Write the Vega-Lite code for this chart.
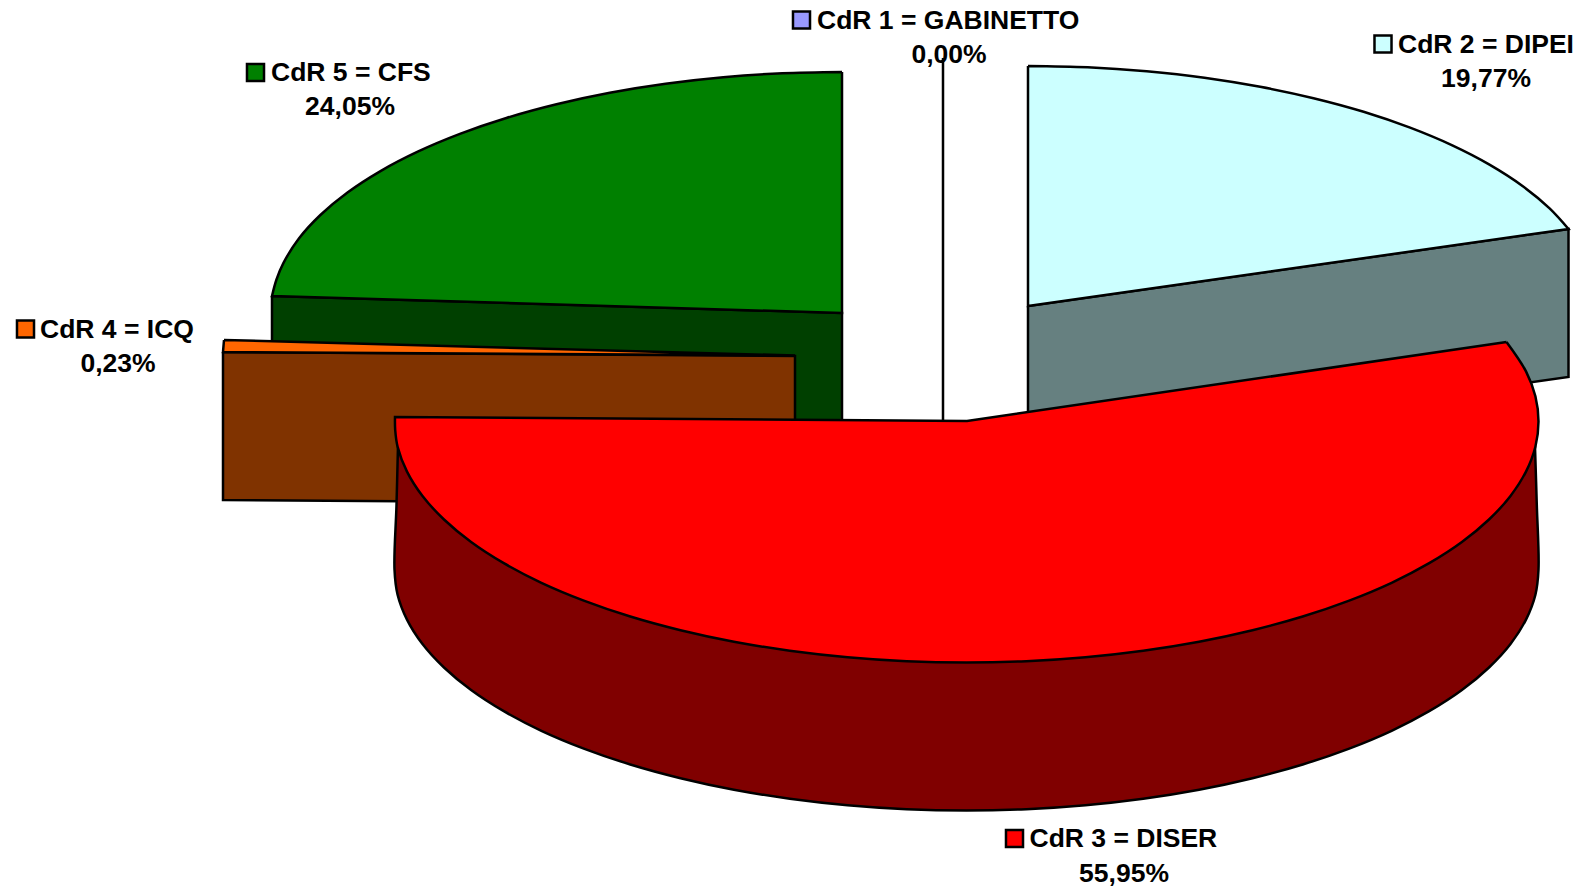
{"$schema":"https://vega.github.io/schema/vega-lite/v6.json","width":1582,"height":889,"padding":0,"autosize":{"type":"none"},"background":"#ffffff","config":{"view":{"stroke":null}},
"datasets":{
"slices":[
{"part":"CdR 2 side","i":0,"x":1028,"y":306},{"part":"CdR 2 side","i":0.5,"x":1028,"y":306},{"part":"CdR 2 side","i":1,"x":1568.5,"y":229},{"part":"CdR 2 side","i":1.5,"x":1568.5,"y":229},{"part":"CdR 2 side","i":2,"x":1568.5,"y":377},{"part":"CdR 2 side","i":2.5,"x":1568.5,"y":377},{"part":"CdR 2 side","i":3,"x":1028,"y":454},{"part":"CdR 2 side","i":3.5,"x":1028,"y":454},{"part":"CdR 2 side","i":4,"x":1028,"y":306},{"part":"CdR 2 side","i":4.5,"x":1028,"y":306},
{"part":"CdR 2 top","i":0,"x":1028,"y":66},{"part":"CdR 2 top","i":0.5,"x":1028,"y":66},{"part":"CdR 2 top","i":1,"x":1087.7,"y":67.3},{"part":"CdR 2 top","i":2,"x":1146.7,"y":71.3},{"part":"CdR 2 top","i":3,"x":1204.4,"y":77.7},{"part":"CdR 2 top","i":4,"x":1260.2,"y":86.8},{"part":"CdR 2 top","i":5,"x":1313.5,"y":98.2},{"part":"CdR 2 top","i":6,"x":1363.6,"y":111.8},{"part":"CdR 2 top","i":7,"x":1410.1,"y":127.7},{"part":"CdR 2 top","i":8,"x":1452.3,"y":145.4},{"part":"CdR 2 top","i":9,"x":1489.9,"y":164.9},{"part":"CdR 2 top","i":10,"x":1522.5,"y":186},{"part":"CdR 2 top","i":11,"x":1549.6,"y":208.4},{"part":"CdR 2 top","i":12,"x":1568.5,"y":229},{"part":"CdR 2 top","i":12.5,"x":1568.5,"y":229},{"part":"CdR 2 top","i":13,"x":1028,"y":306},{"part":"CdR 2 top","i":13.5,"x":1028,"y":306},{"part":"CdR 2 top","i":14,"x":1028,"y":66},{"part":"CdR 2 top","i":14.5,"x":1028,"y":66},
{"part":"CdR 5 side","i":0,"x":272,"y":296},{"part":"CdR 5 side","i":0.5,"x":272,"y":296},{"part":"CdR 5 side","i":1,"x":842,"y":313},{"part":"CdR 5 side","i":1.5,"x":842,"y":313},{"part":"CdR 5 side","i":2,"x":842,"y":461},{"part":"CdR 5 side","i":2.5,"x":842,"y":461},{"part":"CdR 5 side","i":3,"x":272,"y":444},{"part":"CdR 5 side","i":3.5,"x":272,"y":444},{"part":"CdR 5 side","i":4,"x":272,"y":296},{"part":"CdR 5 side","i":4.5,"x":272,"y":296},
{"part":"CdR 5 top","i":0,"x":842,"y":72},{"part":"CdR 5 top","i":0.5,"x":842,"y":72},{"part":"CdR 5 top","i":1,"x":782.3,"y":73.3},{"part":"CdR 5 top","i":2,"x":723.3,"y":77.3},{"part":"CdR 5 top","i":3,"x":665.6,"y":83.8},{"part":"CdR 5 top","i":4,"x":609.8,"y":92.8},{"part":"CdR 5 top","i":5,"x":556.5,"y":104.3},{"part":"CdR 5 top","i":6,"x":506.4,"y":118},{"part":"CdR 5 top","i":7,"x":459.9,"y":133.9},{"part":"CdR 5 top","i":8,"x":417.7,"y":151.7},{"part":"CdR 5 top","i":9,"x":380.1,"y":171.3},{"part":"CdR 5 top","i":10,"x":347.5,"y":192.5},{"part":"CdR 5 top","i":11,"x":320.4,"y":215},{"part":"CdR 5 top","i":12,"x":298.9,"y":238.5},{"part":"CdR 5 top","i":13,"x":283.5,"y":262.9},{"part":"CdR 5 top","i":14,"x":276.5,"y":279.5},{"part":"CdR 5 top","i":15,"x":272,"y":296},{"part":"CdR 5 top","i":15.5,"x":272,"y":296},{"part":"CdR 5 top","i":16,"x":842,"y":313},{"part":"CdR 5 top","i":16.5,"x":842,"y":313},{"part":"CdR 5 top","i":17,"x":842,"y":72},{"part":"CdR 5 top","i":17.5,"x":842,"y":72},
{"part":"CdR 4 side","i":0,"x":223,"y":352},{"part":"CdR 4 side","i":0.5,"x":223,"y":352},{"part":"CdR 4 side","i":1,"x":795,"y":356},{"part":"CdR 4 side","i":1.5,"x":795,"y":356},{"part":"CdR 4 side","i":2,"x":795,"y":504},{"part":"CdR 4 side","i":2.5,"x":795,"y":504},{"part":"CdR 4 side","i":3,"x":223,"y":500},{"part":"CdR 4 side","i":3.5,"x":223,"y":500},{"part":"CdR 4 side","i":4,"x":223,"y":352},{"part":"CdR 4 side","i":4.5,"x":223,"y":352},
{"part":"CdR 4 top","i":0,"x":224,"y":340},{"part":"CdR 4 top","i":0.5,"x":224,"y":340},{"part":"CdR 4 top","i":1,"x":795,"y":355.5},{"part":"CdR 4 top","i":1.5,"x":795,"y":355.5},{"part":"CdR 4 top","i":2,"x":223,"y":352},{"part":"CdR 4 top","i":2.5,"x":223,"y":352},{"part":"CdR 4 top","i":3,"x":224,"y":340},{"part":"CdR 4 top","i":3.5,"x":224,"y":340},
{"part":"CdR 3 side","i":0,"x":398,"y":445},{"part":"CdR 3 side","i":0.5,"x":398,"y":445},{"part":"CdR 3 side","i":0.7,"x":396.5,"y":505},{"part":"CdR 3 side","i":1,"x":394.5,"y":569.5},{"part":"CdR 3 side","i":2,"x":397.6,"y":594.7},{"part":"CdR 3 side","i":3,"x":407,"y":619.6},{"part":"CdR 3 side","i":4,"x":422.5,"y":644},{"part":"CdR 3 side","i":5,"x":444,"y":667.5},{"part":"CdR 3 side","i":6,"x":471.1,"y":690},{"part":"CdR 3 side","i":7,"x":503.8,"y":711.2},{"part":"CdR 3 side","i":8,"x":541.4,"y":730.8},{"part":"CdR 3 side","i":9,"x":583.8,"y":748.6},{"part":"CdR 3 side","i":10,"x":630.3,"y":764.5},{"part":"CdR 3 side","i":11,"x":680.5,"y":778.2},{"part":"CdR 3 side","i":12,"x":733.9,"y":789.7},{"part":"CdR 3 side","i":13,"x":789.8,"y":798.7},{"part":"CdR 3 side","i":14,"x":847.6,"y":805.2},{"part":"CdR 3 side","i":15,"x":906.7,"y":809.2},{"part":"CdR 3 side","i":16,"x":966.5,"y":810.5},{"part":"CdR 3 side","i":17,"x":1026.3,"y":809.2},{"part":"CdR 3 side","i":18,"x":1085.4,"y":805.2},{"part":"CdR 3 side","i":19,"x":1143.2,"y":798.7},{"part":"CdR 3 side","i":20,"x":1199.1,"y":789.7},{"part":"CdR 3 side","i":21,"x":1252.5,"y":778.2},{"part":"CdR 3 side","i":22,"x":1302.7,"y":764.5},{"part":"CdR 3 side","i":23,"x":1349.2,"y":748.6},{"part":"CdR 3 side","i":24,"x":1391.6,"y":730.8},{"part":"CdR 3 side","i":25,"x":1429.2,"y":711.2},{"part":"CdR 3 side","i":26,"x":1461.9,"y":690},{"part":"CdR 3 side","i":27,"x":1489,"y":667.5},{"part":"CdR 3 side","i":28,"x":1510.5,"y":644},{"part":"CdR 3 side","i":29,"x":1526,"y":619.6},{"part":"CdR 3 side","i":30,"x":1535.4,"y":594.7},{"part":"CdR 3 side","i":31,"x":1538.5,"y":569.5},{"part":"CdR 3 side","i":31.5,"x":1536.8,"y":505},{"part":"CdR 3 side","i":32,"x":1535,"y":447},{"part":"CdR 3 side","i":32.5,"x":1535,"y":447},{"part":"CdR 3 side","i":33,"x":398,"y":445},{"part":"CdR 3 side","i":33.5,"x":398,"y":445},
{"part":"CdR 3 top","i":0,"x":1506.5,"y":342},{"part":"CdR 3 top","i":0.5,"x":1506.5,"y":342},{"part":"CdR 3 top","i":1,"x":1526,"y":371.4},{"part":"CdR 3 top","i":2,"x":1535.4,"y":396.3},{"part":"CdR 3 top","i":3,"x":1538.5,"y":421.5},{"part":"CdR 3 top","i":4,"x":1535.4,"y":446.7},{"part":"CdR 3 top","i":5,"x":1526,"y":471.6},{"part":"CdR 3 top","i":6,"x":1510.5,"y":496},{"part":"CdR 3 top","i":7,"x":1489,"y":519.5},{"part":"CdR 3 top","i":8,"x":1461.9,"y":542},{"part":"CdR 3 top","i":9,"x":1429.2,"y":563.2},{"part":"CdR 3 top","i":10,"x":1391.6,"y":582.8},{"part":"CdR 3 top","i":11,"x":1349.2,"y":600.6},{"part":"CdR 3 top","i":12,"x":1302.7,"y":616.5},{"part":"CdR 3 top","i":13,"x":1252.5,"y":630.2},{"part":"CdR 3 top","i":14,"x":1199.1,"y":641.7},{"part":"CdR 3 top","i":15,"x":1143.2,"y":650.7},{"part":"CdR 3 top","i":16,"x":1085.4,"y":657.2},{"part":"CdR 3 top","i":17,"x":1026.3,"y":661.2},{"part":"CdR 3 top","i":18,"x":966.5,"y":662.5},{"part":"CdR 3 top","i":19,"x":906.7,"y":661.2},{"part":"CdR 3 top","i":20,"x":847.6,"y":657.2},{"part":"CdR 3 top","i":21,"x":789.8,"y":650.7},{"part":"CdR 3 top","i":22,"x":733.9,"y":641.7},{"part":"CdR 3 top","i":23,"x":680.5,"y":630.2},{"part":"CdR 3 top","i":24,"x":630.3,"y":616.5},{"part":"CdR 3 top","i":25,"x":583.8,"y":600.6},{"part":"CdR 3 top","i":26,"x":541.4,"y":582.8},{"part":"CdR 3 top","i":27,"x":503.8,"y":563.2},{"part":"CdR 3 top","i":28,"x":471.1,"y":542},{"part":"CdR 3 top","i":29,"x":444,"y":519.5},{"part":"CdR 3 top","i":30,"x":422.5,"y":496},{"part":"CdR 3 top","i":31,"x":407,"y":471.6},{"part":"CdR 3 top","i":32,"x":397.6,"y":446.7},{"part":"CdR 3 top","i":33,"x":395.2,"y":430},{"part":"CdR 3 top","i":34,"x":395,"y":417},{"part":"CdR 3 top","i":34.5,"x":395,"y":417},{"part":"CdR 3 top","i":35,"x":967,"y":421},{"part":"CdR 3 top","i":35.5,"x":967,"y":421},{"part":"CdR 3 top","i":36,"x":1506.5,"y":342},{"part":"CdR 3 top","i":36.5,"x":1506.5,"y":342},
{"part":"CdR 1 top","i":0,"x":943,"y":58},{"part":"CdR 1 top","i":1,"x":943,"y":421}
],
"labels":[
{"name":"CdR 1 = GABINETTO","share":"0,00%","keyx":801.5,"keyy":20,"tx":817,"ty":29,"px":949,"py":63},
{"name":"CdR 2 = DIPEI","share":"19,77%","keyx":1383,"keyy":44,"tx":1398,"ty":53,"px":1486,"py":87},
{"name":"CdR 3 = DISER","share":"55,95%","keyx":1014.5,"keyy":838.5,"tx":1029.5,"ty":847,"px":1124,"py":882},
{"name":"CdR 4 = ICQ","share":"0,23%","keyx":25.5,"keyy":329,"tx":40,"ty":338,"px":118,"py":372},
{"name":"CdR 5 = CFS","share":"24,05%","keyx":255.5,"keyy":72.5,"tx":271,"ty":81,"px":350,"py":115}
]},
"layer":[
{"data":{"name":"slices"},"mark":{"type":"line","interpolate":"catmull-rom","stroke":"#000000","strokeWidth":2.5,"clip":false},
"encoding":{"x":{"field":"x","type":"quantitative","axis":null,"scale":{"domain":[0,1582],"nice":false,"zero":false}},"y":{"field":"y","type":"quantitative","axis":null,"scale":{"domain":[889,0],"nice":false,"zero":false}},
"detail":{"field":"part"},"order":{"field":"i","type":"quantitative"},
"fill":{"field":"part","type":"nominal","legend":null,"scale":{"domain":["CdR 1 top","CdR 2 top","CdR 2 side","CdR 3 top","CdR 3 side","CdR 4 top","CdR 4 side","CdR 5 top","CdR 5 side"],"range":["#9999ff","#ccffff","#668080","#ff0000","#800000","#ff6600","#803300","#008000","#004000"]}}}},
{"data":{"name":"labels"},"mark":{"type":"point","shape":"square","filled":true,"size":290,"stroke":"#000000","strokeWidth":2.5,"opacity":1},
"encoding":{"x":{"field":"keyx","type":"quantitative"},"y":{"field":"keyy","type":"quantitative"},
"fill":{"field":"name","type":"nominal","legend":null,"scale":{"domain":["CdR 1 = GABINETTO","CdR 2 = DIPEI","CdR 3 = DISER","CdR 4 = ICQ","CdR 5 = CFS"],"range":["#9999ff","#ccffff","#ff0000","#ff6600","#008000"]}}}},
{"data":{"name":"labels"},"mark":{"type":"text","align":"left","baseline":"alphabetic","font":"Liberation Sans","fontWeight":"bold","fontSize":26.5,"color":"#000000"},
"encoding":{"x":{"field":"tx","type":"quantitative"},"y":{"field":"ty","type":"quantitative"},"text":{"field":"name"}}},
{"data":{"name":"labels"},"mark":{"type":"text","align":"center","baseline":"alphabetic","font":"Liberation Sans","fontWeight":"bold","fontSize":26.5,"color":"#000000"},
"encoding":{"x":{"field":"px","type":"quantitative"},"y":{"field":"py","type":"quantitative"},"text":{"field":"share"}}}
],
"resolve":{"scale":{"fill":"independent"}}}
